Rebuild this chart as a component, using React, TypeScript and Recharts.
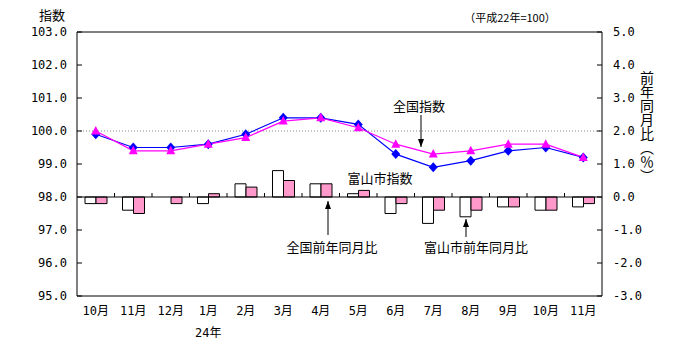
import React from 'react';
import { ComposedChart, Bar, Line, XAxis, YAxis, ReferenceLine } from 'recharts';

const months = ['10月', '11月', '12月', '1月', '2月', '3月', '4月', '5月', '6月', '7月', '8月', '9月', '10月', '11月'];
const toyamaIndex = [99.9, 99.5, 99.5, 99.6, 99.9, 100.4, 100.4, 100.2, 99.3, 98.9, 99.1, 99.4, 99.5, 99.2];
const zenkokuIndex = [100.0, 99.4, 99.4, 99.6, 99.8, 100.3, 100.4, 100.1, 99.6, 99.3, 99.4, 99.6, 99.6, 99.2];
const toyamaYoY = [-0.2, -0.4, 0.0, -0.2, 0.4, 0.8, 0.4, 0.1, -0.5, -0.8, -0.6, -0.3, -0.4, -0.3];
const zenkokuYoY = [-0.2, -0.5, -0.2, 0.1, 0.3, 0.5, 0.4, 0.2, -0.2, -0.4, -0.4, -0.3, -0.4, -0.2];
const indexTicks = [95, 96, 97, 98, 99, 100, 101, 102, 103];
const rateTicks = [-3, -2, -1, 0, 1, 2, 3, 4, 5];
const yearLabel = '24年';
const yearLabelIndex = 3;

const data = months.map((m, i) => ({
  month: m,
  toyamaIndex: toyamaIndex[i],
  zenkokuIndex: zenkokuIndex[i],
  toyamaYoY: toyamaYoY[i],
  zenkokuYoY: zenkokuYoY[i],
}));

const NUM_FONT = "'DejaVu Sans Mono', 'Noto Sans CJK JP', monospace";
const JP_FONT = "'Noto Sans CJK JP', sans-serif";

const Diamond = (props: any) => {
  const { cx, cy } = props;
  if (cx == null || cy == null) return null;
  return <path d={`M${cx},${cy - 5}L${cx + 4.5},${cy}L${cx},${cy + 5}L${cx - 4.5},${cy}Z`} fill="#0000ff" />;
};

const Triangle = (props: any) => {
  const { cx, cy } = props;
  if (cx == null || cy == null) return null;
  return <path d={`M${cx},${cy - 5}L${cx + 4.5},${cy + 3.5}L${cx - 4.5},${cy + 3.5}Z`} fill="#ff00ff" />;
};

const MonthTick = (props: any) => {
  const { x, y, payload, index } = props;
  return (
    <g>
      <text x={x} y={y + 19} textAnchor="middle" fontSize={12} fontFamily={NUM_FONT} fill="#000">
        {payload.value}
      </text>
      {index === yearLabelIndex && (
        <text x={x} y={y + 41} textAnchor="middle" fontSize={12} fontFamily={NUM_FONT} fill="#000">
          {yearLabel}
        </text>
      )}
    </g>
  );
};

// zero line of the bar axis, with small upward ticks between months
const ZeroLine = (props: any) => {
  const { x1, y1, x2, y2 } = props;
  if (x1 == null) return null;
  const step = (x2 - x1) / months.length;
  return (
    <g>
      <line x1={x1} y1={y1} x2={x2} y2={y2} stroke="#000" strokeWidth={1} />
      {months.slice(1).map((_, i) => (
        <line key={i} x1={x1 + step * (i + 1)} y1={y1} x2={x1 + step * (i + 1)} y2={y1 - 4} stroke="#000" />
      ))}
    </g>
  );
};

const Arrow = ({ x, y1, y2 }: { x: number; y1: number; y2: number }) => {
  const dir = y2 > y1 ? 1 : -1;
  return (
    <g>
      <line x1={x} y1={y1} x2={x} y2={y2} stroke="#000" strokeWidth={1} />
      <path d={`M${x},${y2}L${x - 3},${y2 - dir * 8}L${x + 3},${y2 - dir * 8}Z`} fill="#000" />
    </g>
  );
};

export default function App() {
  return (
    <div style={{ position: 'absolute', left: 0, top: 0, width: 685, height: 353, background: '#fff' }}>
      <ComposedChart
        width={685}
        height={353}
        data={data}
        margin={{ top: 32, right: 0, bottom: 0, left: 0 }}
        barSize={11}
        barGap={0}
      >
        <XAxis
          dataKey="month"
          height={57}
          tickLine={false}
          tickSize={0}
          tickMargin={0}
          axisLine={{ stroke: '#000' }}
          tick={<MonthTick />}
          interval={0}
        />
        <YAxis
          yAxisId="left"
          orientation="left"
          width={77}
          domain={[95, 103]}
          ticks={indexTicks}
          tickFormatter={(v: number) => v.toFixed(1)}
          tickSize={-5}
          tickMargin={15}
          axisLine={{ stroke: '#000' }}
          tickLine={{ stroke: '#000' }}
          tick={{ fontSize: 12, fontFamily: NUM_FONT, fill: '#000' }}
          interval={0}
        />
        <YAxis
          yAxisId="right"
          orientation="right"
          width={83}
          domain={[-3, 5]}
          ticks={rateTicks}
          tickFormatter={(v: number) => v.toFixed(1)}
          tickSize={-5}
          tickMargin={16}
          axisLine={{ stroke: '#000' }}
          tickLine={{ stroke: '#000' }}
          tick={{ fontSize: 12, fontFamily: NUM_FONT, fill: '#000', textAnchor: 'start' }}
          interval={0}
        />
        <ReferenceLine yAxisId="left" y={103} stroke="#000" />
        <ReferenceLine yAxisId="left" y={100} stroke="#888" strokeDasharray="1 2" />
        <Bar yAxisId="right" dataKey="toyamaYoY" fill="#ffffff" stroke="#000" strokeWidth={1} isAnimationActive={false} />
        <Bar yAxisId="right" dataKey="zenkokuYoY" fill="#ff99cc" stroke="#000" strokeWidth={1} isAnimationActive={false} />
        <ReferenceLine yAxisId="right" y={0} shape={<ZeroLine />} />
        <Line
          yAxisId="left"
          dataKey="toyamaIndex"
          stroke="#0000ff"
          strokeWidth={1.2}
          dot={<Diamond />}
          activeDot={false}
          isAnimationActive={false}
        />
        <Line
          yAxisId="left"
          dataKey="zenkokuIndex"
          stroke="#ff00ff"
          strokeWidth={1.2}
          dot={<Triangle />}
          activeDot={false}
          isAnimationActive={false}
        />
      </ComposedChart>
      <svg
        width={685}
        height={353}
        style={{ position: 'absolute', left: 0, top: 0, pointerEvents: 'none' }}
      >
        <g fontFamily={JP_FONT} fill="#000">
          <text x={52} y={20} fontSize={13} textAnchor="middle">指数</text>
          <text x={510} y={22} fontSize={11} textAnchor="middle">（平成22年=100）</text>
          <text
            x={647}
            y={71}
            fontSize={14}
            style={{ writingMode: 'vertical-rl' as any }}
          >
            前年同月比（％）
          </text>
          <text x={419} y={111} fontSize={13} textAnchor="middle">全国指数</text>
          <text x={380} y={183} fontSize={13} textAnchor="middle">富山市指数</text>
          <text x={332} y={252} fontSize={13} textAnchor="middle">全国前年同月比</text>
          <text x={476} y={252} fontSize={13} textAnchor="middle">富山市前年同月比</text>
        </g>
        <Arrow x={421} y1={115} y2={147} />
        <Arrow x={328} y1={235} y2={201} />
        <Arrow x={466} y1={237} y2={219} />
      </svg>
    </div>
  );
}
